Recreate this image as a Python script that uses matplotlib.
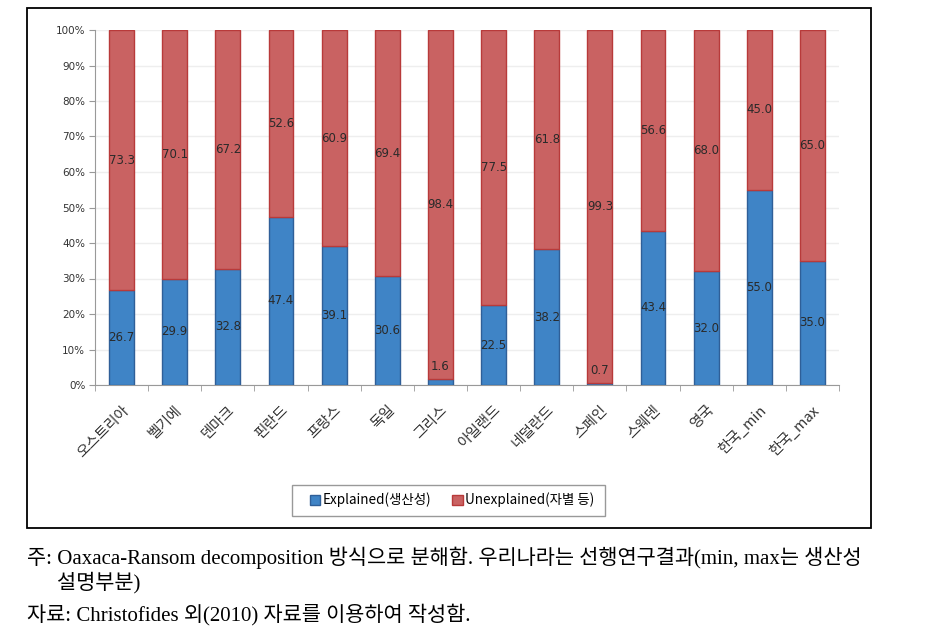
import matplotlib
matplotlib.use("Agg")
import matplotlib.pyplot as plt
from matplotlib.patches import Rectangle
import numpy as np

categories = ["오스트리아", "벨기에", "덴마크", "핀란드", "프랑스", "독일", "그리스",
              "아일랜드", "네덜란드", "스페인", "스웨덴", "영국", "한국_min", "한국_max"]
explained = [26.7, 29.9, 32.8, 47.4, 39.1, 30.6, 1.6, 22.5, 38.2, 0.7, 43.4, 32.0, 55.0, 35.0]
unexplained = [73.3, 70.1, 67.2, 52.6, 60.9, 69.4, 98.4, 77.5, 61.8, 99.3, 56.6, 68.0, 45.0, 65.0]
yticks = [0, 10, 20, 30, 40, 50, 60, 70, 80, 90, 100]
legend_labels = ["Explained(생산성)", "Unexplained(자별 등)"]
note1 = "주: Oaxaca-Ransom decomposition 방식으로 분해함. 우리나라는 선행연구결과(min, max는 생산성"
note1b = "설명부분)"
note2 = "자료: Christofides 외(2010) 자료를 이용하여 작성함."

plt.rcParams['font.family'] = ['Noto Sans CJK KR', 'DejaVu Sans']

W, H = 926, 637
fig = plt.figure(figsize=(W / 100, H / 100), dpi=100)

# outer chart border
fig.patches.append(Rectangle((27 / W, 1 - 528 / H), (871 - 27) / W, (528 - 8) / H,
                             transform=fig.transFigure, fill=False, edgecolor='black',
                             linewidth=1.3, zorder=0))
# legend border
fig.patches.append(Rectangle((292 / W, 1 - 516 / H), (605 - 292) / W, (516 - 485) / H,
                             transform=fig.transFigure, fill=False, edgecolor='#999999',
                             linewidth=1.0, zorder=0))

ax = fig.add_axes([95 / W, 1 - 385 / H, (839 - 95) / W, (385 - 30) / H])
x = np.arange(len(categories))
blue = '#3f84c6'
blue_edge = '#2f5f98'
red = '#c96262'
red_edge = '#b83a3a'
bw = 0.47
ax.bar(x, explained, bw, color=blue, edgecolor=blue_edge, linewidth=1.0, zorder=3,
       label=legend_labels[0])
ax.bar(x, unexplained, bw, bottom=explained, color=red, edgecolor=red_edge, linewidth=1.0,
       zorder=3, label=legend_labels[1])

for i, (e, u) in enumerate(zip(explained, unexplained)):
    ye = e / 2 if e >= 5 else e + 3.5
    ax.text(i, ye, f"{e:.1f}", ha='center', va='center', fontsize=8.5,
            color='#2a2a2a', zorder=4, family=['DejaVu Sans'])
    ax.text(i, e + u / 2, f"{u:.1f}", ha='center', va='center', fontsize=8.5,
            color='#2a2a2a', zorder=4, family=['DejaVu Sans'])

ax.set_xlim(-0.5, len(categories) - 0.5)
ax.set_ylim(0, 100)
ax.set_yticks(yticks)
ax.set_yticklabels([f"{t}%" for t in yticks], fontsize=7.5, color='#333333',
                   family=['DejaVu Sans'])
ax.set_xticks(x)
ax.set_xticklabels(categories, rotation=45, ha='right', rotation_mode='anchor',
                   fontsize=10.5, color='#333333')
ax.set_xticks(np.arange(-0.5, len(categories), 1), minor=True)
ax.tick_params(axis='x', which='major', length=0, pad=13)
ax.tick_params(axis='x', which='minor', length=4, color='#999999')
ax.tick_params(axis='y', length=4, color='#999999', pad=3)
ax.yaxis.grid(True, color='#eeeeee', linewidth=1.0, zorder=0)
ax.set_axisbelow(True)
for s in ['top', 'right']:
    ax.spines[s].set_visible(False)
ax.spines['left'].set_color('#999999')
ax.spines['bottom'].set_color('#999999')

leg = fig.legend(loc='center', bbox_to_anchor=(452 / W, 1 - 500 / H), ncol=2,
                 fontsize=9.7, frameon=False,
                 handlelength=0.75, handleheight=0.75, handletextpad=0.15,
                 columnspacing=1.6, borderpad=0.3)

serif = ['Liberation Serif', 'Noto Sans CJK KR']
fig.text(27 / W, 1 - 558 / H, note1, fontsize=15, va='center', ha='left', family=serif)
fig.text(57 / W, 1 - 583 / H, note1b, fontsize=15, va='center', ha='left', family=serif)
fig.text(27 / W, 1 - 615 / H, note2, fontsize=15, va='center', ha='left', family=serif)

fig.savefig("out.png", dpi=100)
